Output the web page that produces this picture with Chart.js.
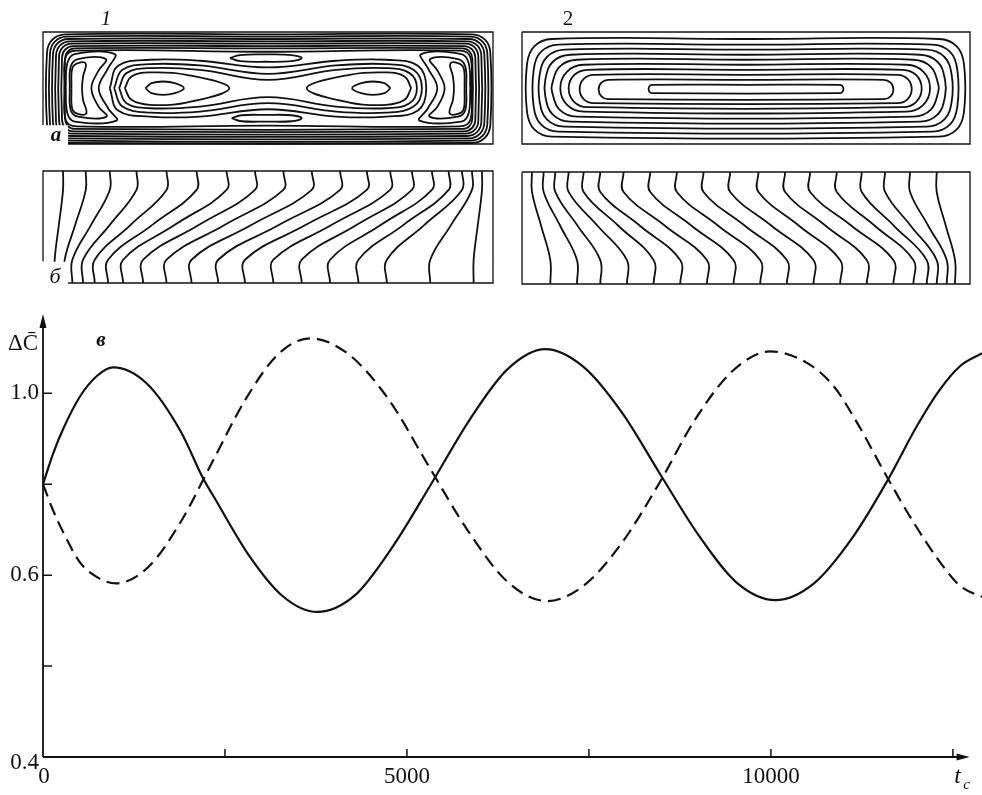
<!DOCTYPE html>
<html>
<head>
<meta charset="utf-8">
<script src="https://cdn.jsdelivr.net/npm/chart.js@4.4.1/dist/chart.umd.min.js"></script>
<style>
  html, body { margin: 0; padding: 0; background: #fff; }
  #wrap { position: relative; width: 982px; height: 795px; overflow: hidden; }
  canvas { position: absolute; }
</style>
</head>
<body>
<div id="wrap">
  <canvas id="p1a" width="500" height="158" style="left:0;top:0"></canvas>
  <canvas id="p2a" width="482" height="158" style="left:500px;top:0"></canvas>
  <canvas id="p1b" width="500" height="132" style="left:0;top:158px"></canvas>
  <canvas id="p2b" width="482" height="132" style="left:500px;top:158px"></canvas>
  <canvas id="main" width="982" height="505" style="left:0;top:290px"></canvas>
</div>
<script>
// ---- main plot (в): ΔC vs t_c ----
const tSolid = [0, 140, 275, 508, 740, 962, 1429, 1896, 2199, 2363, 2831, 3298, 3765, 4287, 4809, 5331, 5854, 6376, 6898, 7425, 7952, 8479, 9006, 9533, 10060, 10592, 11123, 11612, 12006, 12326, 12601, 12900];
const cSolid = [0.800, 0.868, 0.921, 0.993, 1.038, 1.057, 1.021, 0.915, 0.813, 0.768, 0.643, 0.553, 0.519, 0.556, 0.664, 0.800, 0.940, 1.052, 1.097, 1.058, 0.958, 0.822, 0.688, 0.583, 0.545, 0.582, 0.683, 0.811, 0.928, 1.009, 1.060, 1.088];
const tDash = [0, 140, 279, 508, 760, 1003, 1447, 1891, 2336, 2780, 3225, 3669, 4212, 4755, 5298, 5840, 6383, 6926, 7437, 7948, 8458, 8969, 9480, 9990, 10494, 10860, 11181, 11612, 11960, 12326, 12601, 12900];
const cDash = [0.800, 0.742, 0.694, 0.628, 0.594, 0.582, 0.618, 0.717, 0.852, 0.986, 1.085, 1.121, 1.084, 0.985, 0.840, 0.697, 0.585, 0.543, 0.578, 0.670, 0.800, 0.945, 1.050, 1.092, 1.067, 1.016, 0.936, 0.811, 0.716, 0.628, 0.576, 0.552];
const xTicks = [0, 2500, 5000, 7500, 10000, 12500];
const xTickLabels = ['0', '', '5000', '', '10000', ''];
const yTicks = [0.2, 0.4, 0.6, 0.8, 1.0];
const yTickLabels = ['0.4', '', '0.6', '', '1.0'];

const wallL = [142, 151, 160, 169, 178, 187, 196];
const wallR = [1470, 1461, 1452, 1443, 1434, 1425, 1416];
const wallT = [104, 111, 118, 125, 132, 139, 146];
const wallB = [429, 422, 415, 408, 401, 394, 387];
const wallRad = [55, 50, 46, 42, 38, 34, 30];
const cells1a = [
  [[198,265],[203,190],[225,163],[345,163],[325,205],[297,265],[325,325],[350,362],[225,365],[203,340],[198,265]],
  [[210,265],[213,200],[235,178],[318,178],[295,215],[275,265],[295,318],[320,350],[235,350],[213,330],[210,265]],
  [[215,265],[218,205],[235,190],[258,192],[250,230],[247,265],[250,300],[260,340],[235,342],[218,328],[215,265]],
  [[1410,265],[1405,190],[1383,163],[1263,163],[1283,205],[1311,265],[1283,325],[1258,362],[1383,365],[1405,340],[1410,265]],
  [[1398,265],[1395,200],[1373,178],[1290,178],[1313,215],[1333,265],[1313,318],[1288,350],[1373,350],[1395,330],[1398,265]],
  [[1393,265],[1390,205],[1373,190],[1350,192],[1358,230],[1361,265],[1358,300],[1348,340],[1373,342],[1390,328],[1393,265]]
];
const eyes1a = [
  [[437,265],[455,250],[490,245],[525,250],[552,265],[525,280],[490,285],[455,280],[437,265]],
  [[375,265],[395,230],[450,218],[560,225],[688,265],[560,308],[450,315],[395,300],[375,265]],
  [[1171,265],[1153,250],[1118,245],[1083,250],[1056,265],[1083,280],[1118,285],[1153,280],[1171,265]],
  [[1233,265],[1213,230],[1158,218],[1048,225],[920,265],[1048,308],[1158,315],[1213,300],[1233,265]],
  [[690,175],[720,166],[797,164],[875,166],[905,175],[875,184],[797,186],[720,184],[690,175]],
  [[695,355],[725,346],[800,345],[875,346],[905,355],[875,364],[800,365],[725,364],[695,355]]
];
const peanuts1a = [
  [[358,265],[380,220],[450,205],[600,210],[804,240],[1008,210],[1158,205],[1228,220],[1250,265],[1228,310],[1158,325],[1008,320],[804,292],[600,320],[450,325],[380,310],[358,265]],
  [[343,265],[368,210],[450,193],[600,197],[804,222],[1008,197],[1158,193],[1240,210],[1265,265],[1240,320],[1158,338],[1008,335],[804,310],[600,335],[450,338],[368,320],[343,265]],
  [[330,265],[355,198],[450,180],[600,183],[804,203],[1008,183],[1158,180],[1253,198],[1278,265],[1253,332],[1158,350],[1008,350],[804,328],[600,350],[450,350],[355,332],[330,265]],
  [[195,265],[198,172],[230,153],[800,156],[1378,153],[1410,172],[1413,265],[1410,360],[1378,379],[800,377],[230,379],[198,360],[195,265]]
];

// ---- panel 2a: nested loops ----
const loopL = [80, 100, 118, 135, 155, 180, 205, 238, 295, 445];
const loopR = [1392, 1372, 1355, 1335, 1315, 1290, 1265, 1235, 1180, 1030];
const loopT = [118, 135, 150, 165, 180, 195, 210, 225, 240, 255];
const loopB = [410, 395, 380, 365, 350, 335, 322, 310, 298, 280];
const loopRad = [75, 75, 75, 75, 75, 70, 56, 42, 29, 12];

// ---- panels 1б / 2б: isolines, x where each line meets top and bottom ----
const iso1Top = [190, 258, 330, 410, 500, 590, 680, 765, 850, 935, 1020, 1100, 1170, 1235, 1295, 1345, 1385, 1415, 1445];
const iso1Bot = [165, 195, 218, 250, 285, 325, 370, 430, 500, 575, 655, 735, 820, 905, 990, 1075, 1160, 1290, 1420];
const iso2Top = [95, 130, 165, 205, 250, 300, 370, 450, 530, 610, 690, 775, 855, 930, 1010, 1085, 1155, 1230, 1310];
const iso2Bot = [150, 230, 300, 380, 460, 540, 620, 700, 780, 860, 940, 1020, 1100, 1180, 1240, 1280, 1310, 1340, 1365];

const SERIF = '"Liberation Serif", "DejaVu Serif", serif';

// closed rounded loop through its sides and corner midpoints
function roundLoop(L, R, T, B, r) {
  const cx = (L + R) / 2, cy = (T + B) / 2;
  const stadium = r >= (B - T) / 2 - 1;
  const k = 0.29 * r;
  const p = [[cx, T], [R - r, T], [R - k, T + k]];
  if (stadium) p.push([R, cy]); else p.push([R, T + r], [R, B - r]);
  p.push([R - k, B - k], [R - r, B], [L + r, B], [L + k, B - k]);
  if (stadium) p.push([L, cy]); else p.push([L, B - r], [L, T + r]);
  p.push([L + k, T + k], [L + r, T], [cx, T]);
  return p;
}

function isoline(top, bot, T, B, k1, k2) {
  return [[top, T], [top, k1], [(top + bot) / 2, (k1 + k2) / 2], [bot, k2], [bot, B]];
}

function lineSet(points, width, tension) {
  return {
    data: points.map(p => ({x: p[0], y: p[1]})),
    showLine: true,
    borderColor: '#111',
    borderWidth: width,
    pointRadius: 0,
    tension: tension,
    fill: false,
    clip: false
  };
}

function makePanel(id, xr, yr, padding, curves, frame, labels, blank) {
  const datasets = curves.map(c => lineSet(c, 1.8, 0.4));
  datasets.push(lineSet(frame, 1.3, 0.001));
  new Chart(document.getElementById(id), {
    type: 'scatter',
    data: { datasets: datasets },
    options: {
      responsive: false,
      animation: false,
      events: [],
      layout: { padding: padding },
      plugins: { legend: { display: false }, tooltip: { enabled: false } },
      scales: {
        x: { type: 'linear', min: xr[0], max: xr[1], display: false },
        y: { type: 'linear', min: yr[0], max: yr[1], reverse: true, display: false }
      }
    },
    plugins: [{
      id: 'panelText',
      afterDraw(chart) {
        const ctx = chart.ctx;
        const sx = chart.scales.x, sy = chart.scales.y;
        ctx.save();
        if (blank) {
          const x1 = sx.getPixelForValue(blank[0]), x2 = sx.getPixelForValue(blank[1]);
          const y1 = sy.getPixelForValue(blank[2]), y2 = sy.getPixelForValue(blank[3]);
          ctx.fillStyle = '#fff';
          ctx.fillRect(x1, y1, x2 - x1, y2 - y1);
        }
        ctx.fillStyle = '#111';
        ctx.textAlign = 'center';
        ctx.textBaseline = 'middle';
        labels.forEach(l => {
          ctx.font = l.font;
          ctx.fillText(l.text, l.x, l.y);
        });
        ctx.restore();
      }
    }]
  });
}

// panel 1a
const curves1a = [];
wallL.forEach((L, i) => curves1a.push(roundLoop(L, wallR[i], wallT[i], wallB[i], wallRad[i])));
cells1a.forEach(c => curves1a.push(c));
eyes1a.forEach(c => curves1a.push(c));
peanuts1a.forEach(c => curves1a.push(c));
makePanel('p1a', [130, 1478], [97, 432], {left: 43, top: 32, right: 7, bottom: 14}, curves1a,
  [[130, 375], [130, 97], [1478, 97], [1478, 432], [205, 432]],
  [{text: '1', x: 106, y: 19, font: 'italic 21px ' + SERIF},
   {text: 'а', x: 56, y: 136, font: 'italic bold 21px ' + SERIF}],
  [100, 205, 376, 450]);

// panel 2a
const curves2a = loopL.map((L, i) => roundLoop(L, loopR[i], loopT[i], loopB[i], loopRad[i]));
makePanel('p2a', [65, 1410], [97, 432], {left: 22, top: 32, right: 12, bottom: 14}, curves2a,
  [[65, 97], [1410, 97], [1410, 432], [65, 432], [65, 97]],
  [{text: '2', x: 68, y: 19, font: '21px ' + SERIF}],
  null);

// panel 1б
const curves1b = iso1Top.map((t, i) => isoline(t, iso1Bot[i], 33, 370, 90, 300));
makePanel('p1b', [130, 1478], [33, 370], {left: 43, top: 13, right: 7, bottom: 7}, curves1b,
  [[130, 305], [130, 33], [1478, 33], [1478, 370], [205, 370]],
  [{text: 'б', x: 55, y: 119, font: 'italic 22px ' + SERIF}],
  [100, 205, 306, 390]);

// panel 2б
const curves2b = iso2Top.map((t, i) => isoline(t, iso2Bot[i], 35, 372, 95, 300));
makePanel('p2b', [65, 1410], [35, 372], {left: 22, top: 14, right: 12, bottom: 6}, curves2b,
  [[65, 35], [1410, 35], [1410, 372], [65, 372], [65, 35]],
  [],
  null);

// main chart
const axesPlugin = {
  id: 'axesPlugin',
  afterDatasetsDraw(chart) {
    const ctx = chart.ctx;
    const sx = chart.scales.x, sy = chart.scales.y;
    const x0 = sx.getPixelForValue(0), y0 = sy.getPixelForValue(0.2);
    const yTop = chart.chartArea.top;
    const xEnd = sx.getPixelForValue(12730);
    ctx.save();
    ctx.strokeStyle = '#111';
    ctx.fillStyle = '#111';
    ctx.lineWidth = 1.8;
    ctx.beginPath();
    ctx.moveTo(x0, y0);
    ctx.lineTo(x0, yTop + 8);
    ctx.moveTo(x0, y0);
    ctx.lineTo(xEnd - 8, y0);
    ctx.stroke();
    // arrowheads
    ctx.beginPath();
    ctx.moveTo(x0, yTop - 2);
    ctx.lineTo(x0 - 3.5, yTop + 12);
    ctx.lineTo(x0 + 3.5, yTop + 12);
    ctx.closePath();
    ctx.fill();
    ctx.beginPath();
    ctx.moveTo(xEnd, y0);
    ctx.lineTo(xEnd - 13, y0 - 3.5);
    ctx.lineTo(xEnd - 13, y0 + 3.5);
    ctx.closePath();
    ctx.fill();
    // ticks
    ctx.lineWidth = 1.5;
    ctx.beginPath();
    yTicks.forEach((v, i) => {
      if (i === 0) return;
      const py = sy.getPixelForValue(v);
      ctx.moveTo(x0, py);
      ctx.lineTo(x0 + 9, py);
    });
    xTicks.forEach((v, i) => {
      if (i === 0) return;
      const px = sx.getPixelForValue(v);
      ctx.moveTo(px, y0);
      ctx.lineTo(px, y0 - 8);
    });
    ctx.stroke();
    // tick labels
    ctx.font = '23px ' + SERIF;
    ctx.textBaseline = 'middle';
    ctx.textAlign = 'right';
    yTicks.forEach((v, i) => {
      if (!yTickLabels[i]) return;
      const py = sy.getPixelForValue(v) + (i === 0 ? 6 : 0);
      ctx.fillText(yTickLabels[i], x0 - 4, py);
    });
    ctx.textAlign = 'center';
    xTicks.forEach((v, i) => {
      if (!xTickLabels[i]) return;
      ctx.fillText(xTickLabels[i], sx.getPixelForValue(v) + (i === 0 ? 1 : 0), y0 + 20);
    });
    // axis titles
    ctx.fillText('ΔC\u0304', x0 - 20, yTop + 28);
    ctx.font = 'italic bold 21px ' + SERIF;
    ctx.fillText('в', x0 + 58, yTop + 25);
    ctx.font = 'italic 24px ' + SERIF;
    ctx.fillText('t', xEnd - 12, y0 + 20);
    ctx.font = 'italic 15px ' + SERIF;
    ctx.fillText('c', xEnd - 3, y0 + 28);
    ctx.restore();
  }
};

new Chart(document.getElementById('main'), {
  type: 'scatter',
  data: {
    datasets: [
      {
        label: 'solid',
        data: tSolid.map((t, i) => ({x: t, y: cSolid[i]})),
        showLine: true,
        borderColor: '#111',
        borderWidth: 2.2,
        pointRadius: 0,
        cubicInterpolationMode: 'monotone',
        fill: false
      },
      {
        label: 'dashed',
        data: tDash.map((t, i) => ({x: t, y: cDash[i]})),
        showLine: true,
        borderColor: '#111',
        borderWidth: 2.2,
        borderDash: [13, 7],
        pointRadius: 0,
        cubicInterpolationMode: 'monotone',
        fill: false
      }
    ]
  },
  options: {
    responsive: false,
    animation: false,
    events: [],
    layout: { padding: {left: 43, right: 0, top: 26, bottom: 38} },
    plugins: { legend: { display: false }, tooltip: { enabled: false } },
    scales: {
      x: { type: 'linear', min: 0, max: 12900, display: false },
      y: { type: 'linear', min: 0.2, max: 1.17, display: false }
    }
  },
  plugins: [axesPlugin]
});
</script>
</body>
</html>
